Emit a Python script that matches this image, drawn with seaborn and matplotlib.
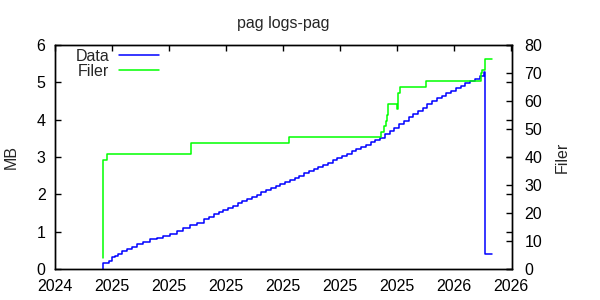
import matplotlib
matplotlib.use("Agg")
import matplotlib.pyplot as plt
import seaborn as sns

# ---- data (x in days from first tick) ----
title = "pag logs-pag"
y_label_left = "MB"
y_label_right = "Filer"
x_ticks = [0, 60, 120, 180, 240, 300, 360, 420, 480]
x_tick_labels = ["2024", "2025", "2025", "2025", "2025", "2025", "2025", "2026", "2026"]

data_days = [50.5, 50.6, 56.6, 59.4, 62.9, 66.4, 70.0, 75.2, 80.5, 85.8, 92.7,
             99.8, 106.8, 113.8, 120.8, 127.9, 134.8, 141.9, 149.0, 157.0,
             162, 167, 172, 177, 182, 187, 192, 197, 202, 207, 212, 217, 222,
             227, 232, 237, 242, 247, 252, 257, 262, 267, 272, 277, 282, 287,
             292, 297, 302, 307, 312, 317, 322, 327, 332, 337, 342, 347, 352,
             357, 362, 367, 372, 377, 382, 387, 392, 397, 402, 407, 412, 417,
             422, 427, 432, 437, 442, 447, 451.9, 452.6, 460.3]
data_mb = [0.0, 0.15, 0.22, 0.31, 0.35, 0.41, 0.48, 0.53, 0.60, 0.66, 0.71,
           0.80, 0.84, 0.89, 0.95, 1.02, 1.09, 1.17, 1.24, 1.34,
           1.40, 1.46, 1.52, 1.58, 1.64, 1.70, 1.76, 1.82, 1.88, 1.94, 1.99, 2.05, 2.11,
           2.16, 2.22, 2.27, 2.33, 2.39, 2.44, 2.50, 2.56, 2.62, 2.68, 2.73, 2.79, 2.85,
           2.91, 2.97, 3.02, 3.09, 3.15, 3.21, 3.27, 3.33, 3.40, 3.46, 3.52, 3.61, 3.70,
           3.79, 3.88, 3.97, 4.06, 4.14, 4.23, 4.32, 4.41, 4.50, 4.58, 4.64, 4.71, 4.78,
           4.84, 4.91, 4.98, 5.04, 5.10, 5.16, 5.27, 0.40, 0.40]

filer_days = [50.5, 50.6, 54.8, 142.6, 246.5, 342.8, 346.3, 348.0, 349.7,
              350.8, 360.3, 361.3, 363.1, 390.5, 448.4, 449.8, 452.6, 460.3]
filer_count = [4, 39, 41, 45, 47, 49, 51, 53, 55,
               59, 57, 63, 65, 67, 70, 71, 75, 75]

# ---- style ----
sns.set_style("white")
plt.rcParams["font.family"] = ["Liberation Sans", "DejaVu Sans"]
plt.rcParams["font.size"] = 11.5
FS = 11.5

W, H = 600, 300
fig = plt.figure(figsize=(6, 3), dpi=100)
left, right, top, bottom = 55.3, 512, 45, 269
ax = fig.add_axes([left / W, (H - bottom) / H, (right - left) / W, (bottom - top) / H])
ax2 = ax.twinx()

sns.lineplot(x=data_days, y=data_mb, ax=ax, drawstyle="steps-post",
             color="#0000ff", lw=1.1, label="Data", legend=False, sort=False)
sns.lineplot(x=filer_days, y=filer_count, ax=ax2, drawstyle="steps-post",
             color="#00ff00", lw=1.1, label="Filer", legend=False, sort=False)

ax.set_xlim(0, 481)
ax.set_ylim(0, 6)
ax2.set_ylim(0, 80)
ax.set_xticks(x_ticks)
ax.set_xticklabels(x_tick_labels)
ax.set_yticks(range(0, 7))
ax2.set_yticks(range(0, 81, 10))

for a in (ax, ax2):
    for s in a.spines.values():
        s.set_color("black")
        s.set_linewidth(1.0)
    a.grid(False)

ax.tick_params(axis="x", direction="in", length=4, width=1, top=True, pad=7, colors="black", labelsize=FS)
ax.tick_params(axis="y", direction="in", length=4, width=1, right=True, left=True, pad=7, colors="black", labelsize=FS)
ax2.tick_params(axis="y", direction="in", length=4, width=1, right=True, left=False, pad=9, colors="black", labelsize=FS)

ax.set_xlabel("")
ax.set_ylabel(y_label_left, fontsize=FS, labelpad=13)
ax2.set_ylabel(y_label_right, fontsize=FS, labelpad=9)
ax.set_title(title, fontsize=FS, pad=12)

handles = ax.get_lines()[:1] + ax2.get_lines()[:1]
labels = ["Data", "Filer"]
leg = ax2.legend(handles, labels, loc="upper left", bbox_to_anchor=(0.022, 1.03),
                 frameon=False, markerfirst=False, handlelength=2.5,
                 handletextpad=0.6, labelspacing=0.0, borderpad=0.15, fontsize=FS)

fig.savefig("out.png", dpi=100)
